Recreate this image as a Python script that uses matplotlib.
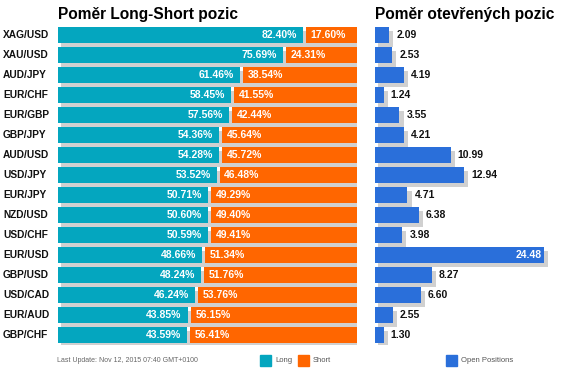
import matplotlib
matplotlib.use("Agg")
import matplotlib.pyplot as plt
import matplotlib.transforms as mtransforms
from matplotlib.patches import Rectangle

plt.rcParams['font.family'] = ['Liberation Sans', 'DejaVu Sans']

pairs = ["XAG/USD", "XAU/USD", "AUD/JPY", "EUR/CHF", "EUR/GBP", "GBP/JPY", "AUD/USD", "USD/JPY",
         "EUR/JPY", "NZD/USD", "USD/CHF", "EUR/USD", "GBP/USD", "USD/CAD", "EUR/AUD", "GBP/CHF"]
long_pct = [82.40, 75.69, 61.46, 58.45, 57.56, 54.36, 54.28, 53.52,
            50.71, 50.60, 50.59, 48.66, 48.24, 46.24, 43.85, 43.59]
short_pct = [17.60, 24.31, 38.54, 41.55, 42.44, 45.64, 45.72, 46.48,
             49.29, 49.40, 49.41, 51.34, 51.76, 53.76, 56.15, 56.41]
open_pos = [2.09, 2.53, 4.19, 1.24, 3.55, 4.21, 10.99, 12.94,
            4.71, 6.38, 3.98, 24.48, 8.27, 6.60, 2.55, 1.30]

TEAL = "#04a6bf"
ORANGE = "#ff6600"
BLUE = "#2a6fda"
SHADOW = "#d0d0d0"

W, H = 568, 377
fig = plt.figure(figsize=(W / 100, H / 100), dpi=100)

def fx(px):
    return px / W

def fy(py):
    return 1 - py / H

top_px, bot_px = 25, 345
ax1 = fig.add_axes([fx(58), fy(bot_px), fx(299), (bot_px - top_px) / H])
ax2 = fig.add_axes([fx(375), fy(bot_px), fx(6.9 * 25), (bot_px - top_px) / H])

n = len(pairs)
ys = list(range(n))
bh = 0.76
gap = 0.5

shadow_off = mtransforms.ScaledTranslation(0.03, -0.04, fig.dpi_scale_trans)
shadow_tr1 = ax1.transData + shadow_off
shadow_tr2 = ax2.transData + shadow_off

for ax in (ax1, ax2):
    ax.set_ylim(n - 0.5, -0.5)
    ax.axis('off')
ax1.set_xlim(0, 100)
ax2.set_xlim(0, 25)

# shadows
totals = [l + s for l, s in zip(long_pct, short_pct)]
sh1 = ax1.barh(ys, totals, height=bh, color=SHADOW, zorder=1)
for p in sh1:
    p.set_transform(shadow_tr1)
    p.set_width(p.get_width() + 0.4)
sh2 = ax2.barh(ys, open_pos, height=bh, color=SHADOW, zorder=1)
for p in sh2:
    p.set_transform(shadow_tr2)
    p.set_width(p.get_width() + 0.15)

# long / short bars
ax1.barh(ys, [l - gap for l in long_pct], height=bh, color=TEAL, zorder=2)
ax1.barh(ys, [s - gap for s in short_pct], left=[l + gap for l in long_pct],
         height=bh, color=ORANGE, zorder=2)

for y, l, s in zip(ys, long_pct, short_pct):
    ax1.text(l - gap - 2.0, y, f"{l:.2f}%", color="white", fontsize=7.5,
             ha="right", va="center", fontweight="bold", zorder=3)
    ax1.text(l + gap + 1.6, y, f"{s:.2f}%", color="white", fontsize=7.5,
             ha="left", va="center", fontweight="bold", zorder=3)

for y, name in zip(ys, pairs):
    fig.text(fx(3), fy(top_px + 10 + 20 * y), name, fontsize=7.3, fontweight="bold",
             ha="left", va="center", color="#111111")

# open positions
ax2.barh(ys, open_pos, height=bh, color=BLUE, zorder=2)
vmax = max(open_pos)
for y, v in zip(ys, open_pos):
    if v == vmax:
        ax2.text(v - 0.35, y, f"{v:.2f}", color="white", fontsize=7.5,
                 ha="right", va="center", fontweight="bold", zorder=3)
    else:
        ax2.text(v + 1.0, y, f"{v:.2f}", color="#111111", fontsize=7.5,
                 ha="left", va="center", fontweight="bold", zorder=3)

# titles
fig.text(fx(58), fy(18.5), "Poměr Long-Short pozic", fontsize=11.2, fontweight="bold",
         ha="left", va="baseline", color="black")
fig.text(fx(375), fy(18.5), "Poměr otevřených pozic", fontsize=11.2, fontweight="bold",
         ha="left", va="baseline", color="black")

# footer
fig.text(fx(57), fy(361), "Last Update: Nov 12, 2015 07:40 GMT+0100", fontsize=5,
         ha="left", va="center", color="#666666")
for x0, col, label in [(260, TEAL, "Long"), (298, ORANGE, "Short"), (446, BLUE, "Open Positions")]:
    fig.patches.append(Rectangle((fx(x0), fy(366)), fx(11), 11 / H, transform=fig.transFigure,
                                 color=col, figure=fig))
    fig.text(fx(x0 + 15), fy(360), label, fontsize=5.5, ha="left", va="center", color="#555555")

fig.savefig("out.png", dpi=100, facecolor="white")
